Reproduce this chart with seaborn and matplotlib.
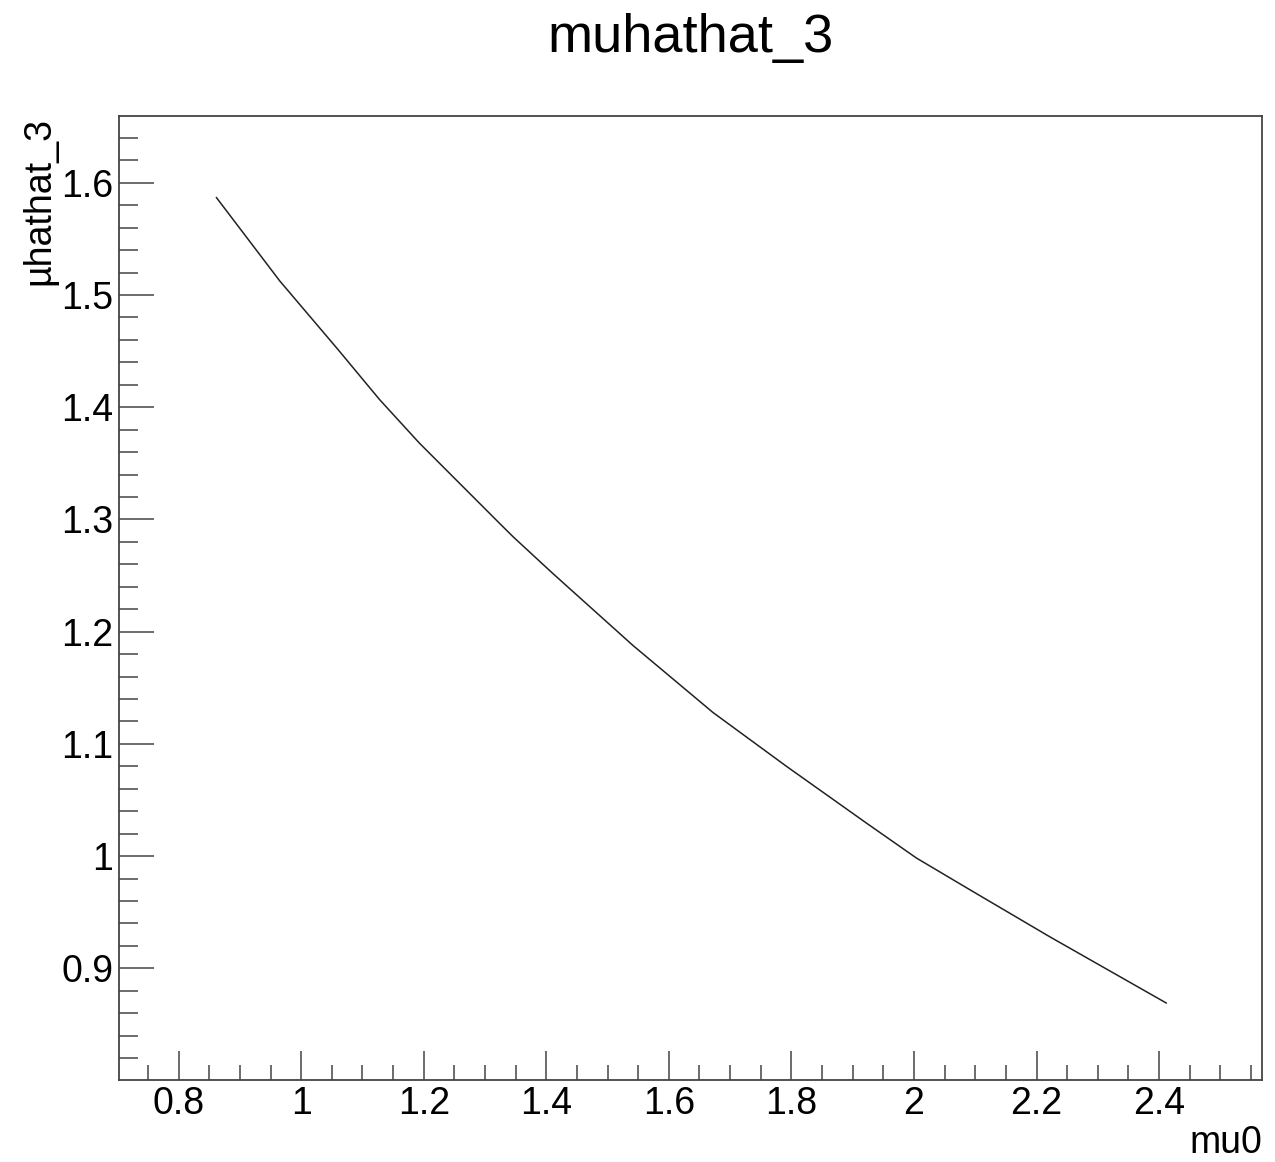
import matplotlib
matplotlib.use("Agg")
import matplotlib.pyplot as plt
from matplotlib.ticker import MultipleLocator, FuncFormatter
import seaborn as sns

# values
mu0 = [0.8615, 0.965, 1.060, 1.128, 1.193, 1.324, 1.346, 1.411, 1.5415,
       1.672, 1.792, 1.922, 2.004, 2.096, 2.222, 2.412]
muhathat = [1.587, 1.5126, 1.4515, 1.4068, 1.368, 1.2964, 1.2845, 1.2517, 1.1877,
            1.128, 1.080, 1.0296, 0.9983, 0.9685, 0.928, 0.869]

title = "muhathat_3"
xlabel = "mu0"
ylabel = "\u00b5hathat_3"

sns.set_style("ticks")
plt.rcParams["font.family"] = ["Liberation Sans", "DejaVu Sans"]
plt.rcParams["text.color"] = "black"
plt.rcParams["xtick.labelcolor"] = "black"
plt.rcParams["ytick.labelcolor"] = "black"

fig = plt.figure(figsize=(12.75, 11.62), dpi=100)
ax = fig.add_axes([0.0933, 0.0706, 0.8965, 0.8296])

sns.lineplot(x=mu0, y=muhathat, color="#222222", linewidth=1.1, sort=False, ax=ax)

# ROOT style: 10% margin around the data
ax.set_xlim(0.7026, 2.568)
ax.set_ylim(0.8005, 1.6596)

ax.xaxis.set_major_locator(MultipleLocator(0.2))
ax.xaxis.set_minor_locator(MultipleLocator(0.05))
ax.yaxis.set_major_locator(MultipleLocator(0.1))
ax.yaxis.set_minor_locator(MultipleLocator(0.02))
fmt = FuncFormatter(lambda v, p: "%g" % round(v, 3))
ax.xaxis.set_major_formatter(fmt)
ax.yaxis.set_major_formatter(fmt)

ax.tick_params(axis="both", which="both", direction="in", color="#444444",
               width=1.1, top=False, right=False, labelsize=27, pad=4,
               labelcolor="black")
ax.tick_params(axis="x", which="major", length=21)
ax.tick_params(axis="x", which="minor", length=11)
ax.tick_params(axis="y", which="major", length=25)
ax.tick_params(axis="y", which="minor", length=13.5)

for s in ax.spines.values():
    s.set_visible(True)
    s.set_linewidth(1.3)
    s.set_color("#444444")

ax.set_xlabel("")
ax.set_ylabel("")

fig.text(0.5415, 0.967, title, ha="center", va="center", fontsize=39, color="black")
fig.text(1262 / 1275, 0.001, xlabel, ha="right", va="bottom", fontsize=27, color="black")
fig.text(0.031, 1 - 117 / 1162, ylabel, rotation=90, ha="center", va="top",
         fontsize=27, color="black")

plt.savefig("out.png", dpi=100)
